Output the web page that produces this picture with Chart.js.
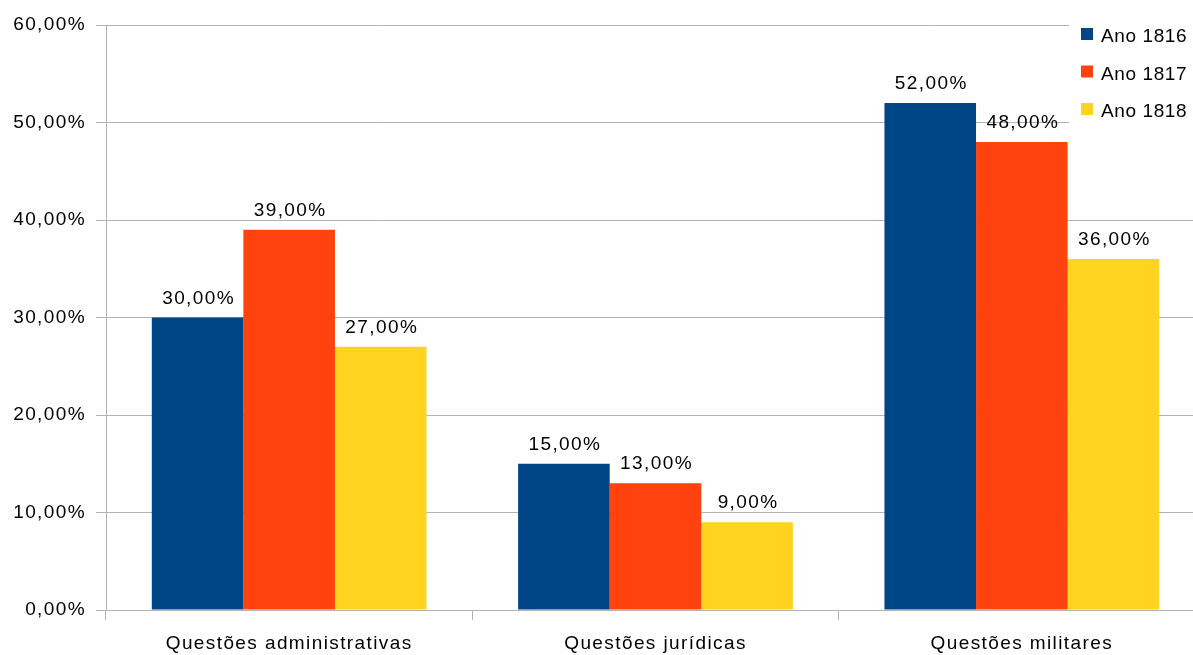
<!DOCTYPE html>
<html>
<head>
<meta charset="utf-8">
<script src="https://cdn.jsdelivr.net/npm/chart.js@4.4.1/dist/chart.umd.min.js"></script>
<style>
  html, body { margin: 0; padding: 0; background: #fff; overflow: hidden; }
  #wrap { width: 1205px; height: 655px; position: relative; }
</style>
</head>
<body>
<div id="wrap"><canvas id="chart"></canvas></div>
<script>
// categories and yearly shares (percent)
const categories = ['Questões administrativas', 'Questões jurídicas', 'Questões militares'];
const seriesNames = ['Ano 1816', 'Ano 1817', 'Ano 1818'];
const values1816 = [30, 15, 52];
const values1817 = [39, 13, 48];
const values1818 = [27, 9, 36];
const yTicks = [0, 10, 20, 30, 40, 50, 60];

const colors = ['#004586', '#ff420e', '#ffd320'];
const fontFamily = '"Liberation Sans", Arial, sans-serif';
const fontSize = 19;
const spacing = '1.4px';

const fmt = v => v.toFixed(2).replace('.', ',') + '%';

// wider letter spacing for all canvas text (state resets on resize)
const textSpacing = {
    id: 'textSpacing',
    beforeLayout(chart) { chart.ctx.letterSpacing = spacing; },
    beforeDraw(chart) { chart.ctx.letterSpacing = spacing; }
};

// value labels above each bar
const valueLabels = {
    id: 'valueLabels',
    afterDatasetsDraw(chart) {
        const ctx = chart.ctx;
        ctx.save();
        ctx.letterSpacing = spacing;
        ctx.font = fontSize + 'px ' + fontFamily;
        ctx.fillStyle = '#000';
        ctx.textAlign = 'center';
        ctx.textBaseline = 'alphabetic';
        chart.data.datasets.forEach((ds, i) => {
            chart.getDatasetMeta(i).data.forEach((bar, j) => {
                ctx.fillText(fmt(ds.data[j]), bar.x + 1, bar.y - 14);
            });
        });
        ctx.restore();
    }
};

// legend box sitting over the top right of the plot
const legendBox = {
    id: 'legendBox',
    afterDraw(chart) {
        const ctx = chart.ctx;
        ctx.save();
        ctx.letterSpacing = '0.6px';
        ctx.fillStyle = '#fff';
        ctx.fillRect(1069, 18, 140, 108);
        ctx.font = fontSize + 'px ' + fontFamily;
        ctx.textBaseline = 'middle';
        ctx.textAlign = 'left';
        chart.data.datasets.forEach((ds, i) => {
            const cy = 34 + i * 37.5;
            ctx.fillStyle = ds.backgroundColor;
            ctx.fillRect(1081, cy - 6, 12, 12);
            ctx.fillStyle = '#000';
            ctx.fillText(ds.label, 1101, cy + 3);
        });
        ctx.restore();
    }
};

new Chart(document.getElementById('chart'), {
    type: 'bar',
    data: {
        labels: categories,
        datasets: [
            { label: seriesNames[0], data: values1816, backgroundColor: colors[0] },
            { label: seriesNames[1], data: values1817, backgroundColor: colors[1] },
            { label: seriesNames[2], data: values1818, backgroundColor: colors[2] }
        ]
    },
    options: {
        responsive: true,
        maintainAspectRatio: false,
        animation: false,
        layout: { padding: { top: 25, right: 0, left: 0, bottom: 0 } },
        datasets: {
            bar: { barPercentage: 1, categoryPercentage: 0.75, borderWidth: 0 }
        },
        plugins: {
            legend: { display: false },
            tooltip: { enabled: false }
        },
        scales: {
            x: {
                offset: true,
                grid: {
                    offset: true,
                    drawOnChartArea: false,
                    drawTicks: true,
                    tickLength: 10,
                    color: '#b3b3b3'
                },
                border: { color: '#b3b3b3' },
                ticks: {
                    color: '#000',
                    padding: 12,
                    font: { family: fontFamily, size: fontSize }
                },
                afterFit: scale => { scale.height = 45; }
            },
            y: {
                min: 0,
                max: 60,
                afterBuildTicks: scale => { scale.ticks = yTicks.map(v => ({ value: v })); },
                grid: {
                    color: '#b3b3b3',
                    tickLength: 10
                },
                border: { color: '#b3b3b3' },
                ticks: {
                    color: '#000',
                    padding: 10,
                    font: { family: fontFamily, size: fontSize },
                    callback: v => fmt(v)
                },
                afterFit: scale => { scale.width = 106; }
            }
        }
    },
    plugins: [textSpacing, valueLabels, legendBox]
});
</script>
</body>
</html>
